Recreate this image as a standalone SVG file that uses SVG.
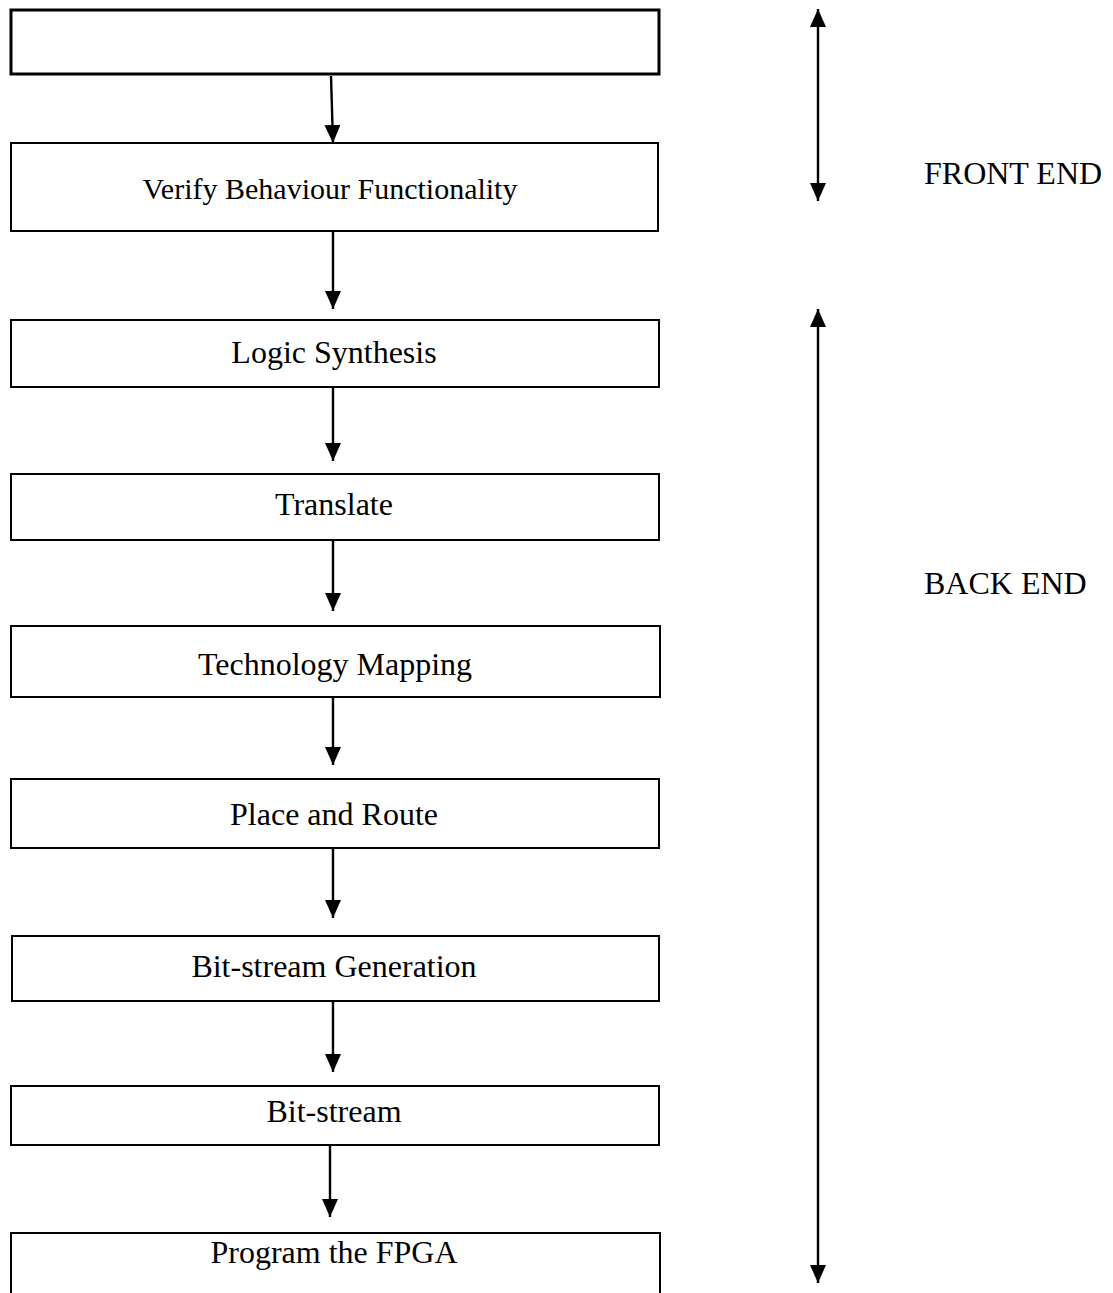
<svg xmlns="http://www.w3.org/2000/svg" width="1113" height="1293" viewBox="0 0 1113 1293">
<defs>
<marker id="ah" markerUnits="userSpaceOnUse" markerWidth="18" markerHeight="16" refX="18" refY="8" orient="auto-start-reverse">
<path d="M0,0 L18,8 L0,16 z" fill="#000"/>
</marker>
<style>
.box{fill:#fff;stroke:#000;stroke-width:2}
.lbl{font-family:"Liberation Serif","Times New Roman",serif;font-size:32px;fill:#000;text-anchor:middle}
.side{font-family:"Liberation Serif","Times New Roman",serif;font-size:32px;fill:#000}
.conn{stroke:#000;stroke-width:2.4;fill:none;marker-end:url(#ah)}
.dbl{stroke:#000;stroke-width:2.4;fill:none;marker-start:url(#ah);marker-end:url(#ah)}
</style>
</defs>
<rect width="1113" height="1293" fill="#fff"/>
<g id="n1"><rect class="box" x="11" y="10" width="648" height="64" style="stroke-width:3"/></g>
<g id="n2"><rect class="box" x="11" y="143" width="647" height="88"/><text class="lbl" x="330" y="199" style="font-size:30px">Verify Behaviour Functionality</text></g>
<g id="n3"><rect class="box" x="11" y="320" width="648" height="67"/><text class="lbl" x="334" y="363">Logic Synthesis</text></g>
<g id="n4"><rect class="box" x="11" y="474" width="648" height="66"/><text class="lbl" x="334" y="515">Translate</text></g>
<g id="n5"><rect class="box" x="11" y="626" width="649" height="71"/><text class="lbl" x="335" y="675">Technology Mapping</text></g>
<g id="n6"><rect class="box" x="11" y="779" width="648" height="69"/><text class="lbl" x="334" y="825">Place and Route</text></g>
<g id="n7"><rect class="box" x="12" y="936" width="647" height="65"/><text class="lbl" x="334" y="977">Bit-stream Generation</text></g>
<g id="n8"><rect class="box" x="11" y="1086" width="648" height="59"/><text class="lbl" x="334" y="1122">Bit-stream</text></g>
<g id="n9"><rect class="box" x="11" y="1233" width="649" height="70"/><text class="lbl" x="334" y="1263">Program the FPGA</text></g>
<g id="side">
<text class="side" x="924" y="184">FRONT END</text>
<text class="side" x="924" y="594">BACK END</text>
</g>
<g id="connectors">
<line class="conn" x1="331" y1="76" x2="333" y2="143"/>
<line class="conn" x1="333" y1="232" x2="333" y2="309"/>
<line class="conn" x1="333" y1="388" x2="333" y2="461"/>
<line class="conn" x1="333" y1="541" x2="333" y2="611"/>
<line class="conn" x1="333" y1="698" x2="333" y2="765"/>
<line class="conn" x1="333" y1="849" x2="333" y2="918"/>
<line class="conn" x1="333" y1="1002" x2="333" y2="1072"/>
<line class="conn" x1="330" y1="1146" x2="330" y2="1217"/>
<line class="dbl" x1="818" y1="9" x2="818" y2="201"/>
<line class="dbl" x1="818" y1="309" x2="818" y2="1283"/>
</g>
</svg>
